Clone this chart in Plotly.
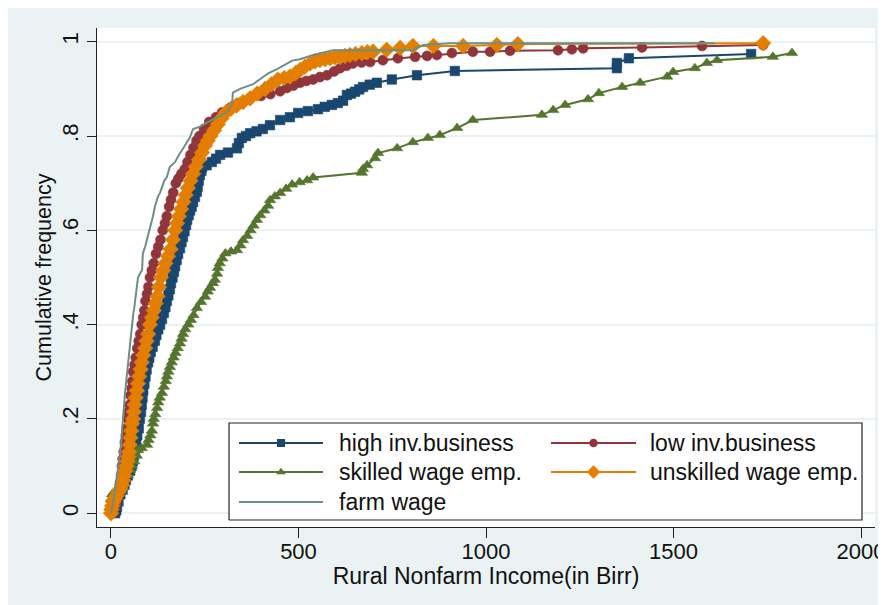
import plotly.graph_objects as go

# ---------------- data ----------------
high_inv = [(11,0.0),(14,0.006),(16,0.013),(20,0.025),(25,0.04),(31,0.05),(36,0.06),(40,0.07),(45,0.08),(51,0.09),
            (55,0.10),(58,0.11),(61,0.122),(64,0.134),(67,0.15),(70,0.165),(74,0.18),(77,0.2),(80,0.215),(82,0.23),
            (84,0.245),(86,0.26),(89,0.275),(92,0.29),(95,0.305),(99,0.32),(102,0.33),(106,0.342),(111,0.353),(117,0.366),
            (121,0.378),(126,0.39),(131,0.4),(136,0.412),(141,0.425),(145,0.437),(149,0.45),(153,0.462),(157,0.475),(160,0.488),
            (164,0.5),(168,0.512),(171,0.524),(175,0.537),(179,0.55),(184,0.562),(188,0.575),(192,0.586),(196,0.598),(200,0.611),
            (203,0.622),(207,0.632),(211,0.642),(215,0.65),(219,0.66),(224,0.671),(229,0.682),(231,0.692),(234,0.705),(237,0.717),
            (241,0.726),(243,0.734),(255,0.738),(269,0.745),(280,0.752),(291,0.760),(312,0.765),(336,0.774),(341,0.785),(349,0.796),
            (360,0.80),(371,0.806),(388,0.81),(405,0.815),(424,0.823),(451,0.834),(477,0.84),(499,0.849),(525,0.853),(552,0.857),
            (570,0.862),(589,0.866),(605,0.87),(619,0.875),(629,0.887),(640,0.89),(651,0.894),(662,0.899),(672,0.904),(690,0.909),
            (709,0.913),(749,0.92),(816,0.929),(917,0.938),(1349,0.944),(1349,0.955),(1381,0.965),(1707,0.974)]

low_inv = [(5,0.0),(9,0.01),(14,0.02),(18,0.035),(21,0.05),(24,0.065),(27,0.08),(29,0.1),(31,0.115),(34,0.13),
           (37,0.15),(40,0.165),(42,0.18),(45,0.2),(47,0.215),(50,0.23),(52,0.25),(55,0.265),(57,0.28),(59,0.3),
           (63,0.315),(66,0.33),(70,0.35),(74,0.365),(78,0.38),(82,0.4),(86,0.415),(89,0.43),(92,0.45),(96,0.465),
           (100,0.48),(104,0.5),(109,0.515),(114,0.53),(120,0.55),(126,0.565),(132,0.58),(138,0.6),(144,0.615),(149,0.63),
           (155,0.65),(160,0.665),(166,0.68),(173,0.7),(180,0.71),(188,0.72),(197,0.73),(204,0.745),(212,0.76),(220,0.775),
           (228,0.79),(236,0.8),(248,0.815),(262,0.83),(280,0.84),(296,0.85),(318,0.86),(340,0.87),(370,0.878),(400,0.885),
           (425,0.889),(451,0.895),(469,0.902),(486,0.907),(504,0.913),(521,0.917),(539,0.92),(557,0.925),(576,0.929),(595,0.937),
           (611,0.944),(628,0.949),(645,0.954),(668,0.956),(691,0.957),(725,0.961),(765,0.965),(811,0.968),(843,0.97),(869,0.972),
           (909,0.976),(965,0.979),(1011,0.979),(1064,0.981),(1192,0.982),(1229,0.984),(1259,0.986),(1416,0.988),(1576,0.991),(1739,0.993)]

skilled = [(0,0.03),(3,0.04),(20,0.055),(35,0.07),(45,0.08),(51,0.092),(56,0.1),(62,0.11),(69,0.122),(72,0.134),
           (82,0.138),(96,0.145),(100,0.155),(105,0.165),(109,0.175),(112,0.19),(114,0.2),(118,0.21),(123,0.223),(126,0.235),
           (130,0.245),(136,0.255),(141,0.268),(146,0.28),(149,0.29),(153,0.3),(157,0.31),(162,0.32),(167,0.33),(172,0.34),
           (178,0.35),(184,0.36),(188,0.37),(192,0.38),(198,0.39),(206,0.4),(213,0.41),(220,0.42),(229,0.435),(240,0.448),
           (251,0.459),(258,0.47),(264,0.478),(272,0.488),(277,0.495),(283,0.508),(285,0.52),(290,0.53),(297,0.54),(305,0.551),
           (320,0.555),(336,0.558),(345,0.568),(352,0.579),(363,0.588),(372,0.6),(380,0.61),(389,0.622),(398,0.632),(409,0.642),
           (419,0.652),(424,0.664),(437,0.672),(451,0.679),(467,0.688),(483,0.697),(503,0.702),(523,0.706),(539,0.712),(669,0.722),
           (672,0.73),(683,0.738),(704,0.753),(712,0.764),(763,0.774),(805,0.787),(845,0.796),(877,0.802),(923,0.817),(965,0.834),
           (1149,0.845),(1179,0.855),(1211,0.866),(1272,0.878),(1301,0.891),(1363,0.904),(1411,0.913),(1483,0.926),(1499,0.936),(1557,0.944),
           (1589,0.955),(1616,0.961),(1765,0.968),(1816,0.976)]

unskilled = [(0,0.0),(1,0.008),(3,0.016),(6,0.024),(10,0.03),(15,0.037),(20,0.045),(25,0.052),(29,0.06),(32,0.07),
             (35,0.08),(38,0.09),(41,0.1),(44,0.11),(46,0.12),(48,0.13),(50,0.145),(52,0.16),(54,0.175),(56,0.19),
             (59,0.2),(61,0.215),(63,0.23),(66,0.245),(69,0.26),(72,0.275),(75,0.29),(79,0.305),(82,0.32),(86,0.335),
             (91,0.35),(95,0.365),(99,0.38),(104,0.4),(109,0.415),(114,0.43),(119,0.445),(124,0.46),(128,0.48),(133,0.5),
             (139,0.515),(145,0.53),(152,0.545),(159,0.56),(165,0.58),(171,0.6),(176,0.615),(181,0.63),(187,0.645),(193,0.66),
             (199,0.675),(205,0.69),(212,0.705),(219,0.72),(226,0.735),(235,0.75),(243,0.765),(251,0.78),(258,0.79),(265,0.8),
             (275,0.812),(285,0.825),(295,0.838),(306,0.85),(320,0.858),(335,0.865),(352,0.872),(371,0.88),(390,0.89),(411,0.9),
             (428,0.91),(445,0.92),(462,0.923),(477,0.926),(493,0.934),(504,0.94),(517,0.947),(531,0.954),(544,0.958),(557,0.961),
             (571,0.963),(584,0.965),(597,0.967),(611,0.968),(624,0.97),(637,0.972),(652,0.974),(669,0.976),(684,0.978),(699,0.979),
             (735,0.983),(771,0.987),(805,0.991),(860,0.991),(939,0.991),(1029,0.993),(1085,0.995),(1739,0.997)]

farm = [(0,0.0),(3,0.01),(6,0.025),(9,0.04),(11,0.05),(14,0.065),(16,0.08),(19,0.09),(21,0.1),(24,0.125),
        (27,0.15),(29,0.175),(32,0.2),(35,0.225),(37,0.25),(40,0.275),(43,0.3),(45,0.315),(48,0.33),(49,0.35),
        (51,0.36),(53,0.375),(56,0.4),(59,0.42),(62,0.435),(64,0.45),(68,0.475),(72,0.5),(80,0.512),(83,0.516),
        (84,0.535),(85,0.551),(91,0.565),(96,0.58),(100,0.59),(104,0.6),(108,0.615),(112,0.63),(117,0.65),(121,0.66),
        (125,0.671),(131,0.68),(136,0.693),(142,0.705),(149,0.713),(157,0.735),(171,0.745),(177,0.755),(184,0.764),(191,0.772),
        (197,0.78),(205,0.79),(211,0.798),(215,0.807),(219,0.815),(237,0.82),(250,0.826),(264,0.832),(278,0.838),(291,0.843),
        (312,0.853),(323,0.868),(325,0.892),(344,0.9),(360,0.905),(379,0.91),(400,0.922),(419,0.933),(443,0.942),(460,0.95),
        (469,0.955),(483,0.96),(504,0.963),(539,0.972),(592,0.982),(805,0.982),(832,0.993),(904,0.997),(1611,0.997)]

series_names = ["high inv.business", "low inv.business", "skilled wage emp.",
                "unskilled wage emp.", "farm wage"]
series_data = [high_inv, low_inv, skilled, unskilled, farm]

x_ticks = [0, 500, 1000, 1500, 2000]
y_ticks = [0, 0.2, 0.4, 0.6, 0.8, 1]
y_tick_labels = ["0", ".2", ".4", ".6", ".8", "1"]

x_title = "Rural Nonfarm Income(in Birr)"
y_title = "Cumulative frequency"

# ---------------- styles ----------------
colors = ["#1a476f", "#90353b", "#55752f", "#e37e00", "#6e8e84"]
symbols = ["square", "circle", "triangle-up", "diamond", None]
msizes = [9.5, 10, 10, 12, 0]
FONT = "Liberation Sans, Arial, sans-serif"
BG = "#EAF2F3"
INK = "#111"

fig = go.Figure()
for name, data, col, sym, ms in zip(series_names, series_data, colors, symbols, msizes):
    xs = [p[0] for p in data]
    ys = [p[1] for p in data]
    if sym is None:
        fig.add_trace(go.Scatter(x=xs, y=ys, mode="lines", name=name,
                                 line=dict(color=col, width=2), showlegend=False))
    else:
        fig.add_trace(go.Scatter(x=xs, y=ys, mode="lines+markers", name=name,
                                 line=dict(color=col, width=2),
                                 marker=dict(symbol=sym, size=ms, color=col,
                                             line=dict(width=0.6, color=col)),
                                 showlegend=False))

# ---------------- hand-built legend (fractions of the plot area) ----------------
box_x = [0.1697, 0.9833]
box_y = [0.014, 0.2084]
fig.add_trace(go.Scatter(x=[box_x[0], box_x[1], box_x[1], box_x[0], box_x[0]],
                         y=[box_y[0], box_y[0], box_y[1], box_y[1], box_y[0]],
                         mode="lines", fill="toself", fillcolor="white",
                         line=dict(color="#222", width=1.2),
                         xaxis="x2", yaxis="y2", showlegend=False, hoverinfo="skip"))
cols = [(0.1825, 0.2905, 0.3085), (0.5835, 0.6928, 0.7088)]
rows = [0.1683, 0.1102, 0.0501]
annotations = []
for i, (name, col, sym, ms) in enumerate(zip(series_names, colors, symbols, msizes)):
    c = cols[i % 2]
    r = rows[i // 2]
    fig.add_trace(go.Scatter(x=[c[0], c[1]], y=[r, r], mode="lines",
                             line=dict(color=col, width=2),
                             xaxis="x2", yaxis="y2", showlegend=False, hoverinfo="skip"))
    if sym is not None:
        fig.add_trace(go.Scatter(x=[(c[0] + c[1]) / 2], y=[r], mode="markers",
                                 marker=dict(symbol=sym, size=ms - 1.5, color=col),
                                 xaxis="x2", yaxis="y2", showlegend=False, hoverinfo="skip"))
    annotations.append(dict(x=c[2], y=r, xref="x2", yref="y2", text=name, showarrow=False,
                            xanchor="left", yanchor="middle",
                            font=dict(family=FONT, size=23, color=INK)))

fig.update_layout(
    width=878, height=597,
    margin=dict(l=89, r=11, t=20, b=78, autoexpand=False),
    paper_bgcolor=BG, plot_bgcolor="white",
    font=dict(family=FONT, size=21.5, color=INK),
    annotations=annotations,
    xaxis=dict(range=[-37.3, 2037.3], tickvals=x_ticks, ticks="outside", ticklen=10,
               tickcolor="#222", tickwidth=1, showline=True, linecolor="#222", linewidth=1.2,
               showgrid=False, zeroline=False, automargin=False, ticklabelstandoff=-6,
               tickfont=dict(family=FONT, size=22, color=INK),
               title=dict(text=x_title, font=dict(family=FONT, size=23, color=INK), standoff=0)),
    yaxis=dict(range=[-0.0293, 1.0292], tickvals=y_ticks, ticktext=y_tick_labels, tickangle=-90,
               ticks="outside", ticklen=9, tickcolor="#222", tickwidth=1,
               showline=True, linecolor="#222", linewidth=1.2, automargin=False,
               showgrid=True, gridcolor=BG, gridwidth=2, zeroline=False,
               tickfont=dict(family=FONT, size=22, color=INK),
               title=dict(text=y_title, font=dict(family=FONT, size=21.5, color=INK), standoff=0)),
    xaxis2=dict(overlaying="x", range=[0, 1], visible=False, fixedrange=True),
    yaxis2=dict(overlaying="y", range=[0, 1], visible=False, fixedrange=True),
)

fig.write_html("out.html")
